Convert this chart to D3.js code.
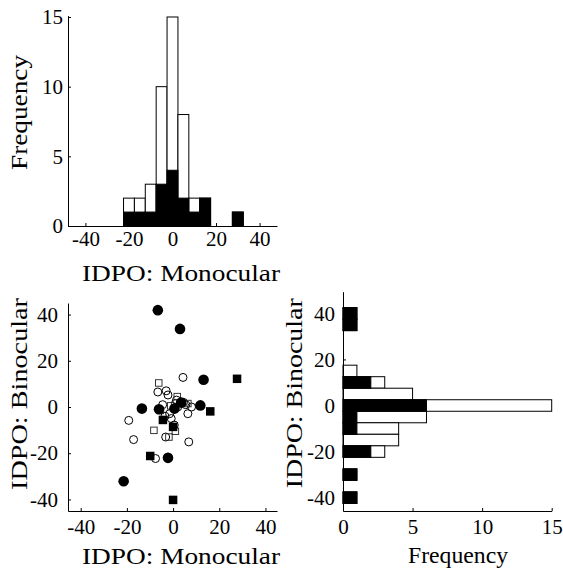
<!DOCTYPE html>
<html>
<head>
<meta charset="utf-8">
<script src="https://cdn.jsdelivr.net/npm/d3@7/dist/d3.min.js"></script>
<style>
  html, body { margin: 0; padding: 0; background: #fff; }
  svg { display: block; }
</style>
</head>
<body>
<svg id="chart" width="563" height="573"></svg>
<script>
// ---------- DATA ----------
// Top histogram: IDPO Monocular (bin centers, total counts, filled subset)
const monoBinCenters = [-20, -15, -10, -5, 0, 5, 10, 15, 20, 25, 30];
const monoTotal      = [2, 2, 3, 10, 15, 8, 2, 2, 0, 0, 1];
const monoFilled     = [1, 1, 1, 3, 4, 2, 1, 2, 0, 0, 1];

// Right histogram: IDPO Binocular
const binoBinCenters = [40, 35, 30, 25, 20, 15, 10, 5, 0, -5, -10, -15, -20, -25, -30, -35, -40];
const binoTotal      = [1, 1, 0, 0, 0, 1, 3, 5, 15, 6, 4, 4, 3, 0, 1, 0, 1];
const binoFilled     = [1, 1, 0, 0, 0, 0, 2, 0, 6, 1, 1, 0, 2, 0, 1, 0, 1];

// Scatter points
const pointMono = [-6.6, 3.0, 13.2, -13.5, -6.1, 0.6, 3.5, 11.8, -2.2, -21.4,
                   27.7, 16.1, -4.4, 0.0, -9.9, 0.0,
                   4.3, -6.2, -6.6, -3.0, -2.2, 1.8, -19.2, -17.1, -8.3, -3.2,
                   -1.8, 6.8, -7.6, 6.4, 8.0, -4.5, -5.5, -3.5, -1.5, -0.8,
                   0.5, 1.0, 1.5, 1.0, 2.0, -1.0, 4.5, 5.5, 6.4];
const pointBino = [41.9, 33.8, 11.8, -0.7, -1.0, -0.7, 1.9, 0.7, -22.0, -32.1,
                   12.2, -1.9, -5.6, -8.6, -21.2, -40.2,
                   12.8, 10.4, 6.5, 7.0, 5.2, 4.5, -5.8, -14.1, -10.1, -13.0,
                   -13.0, -15.1, -22.3, -2.9, 0.0, 1.0, -1.5, -4.0, -2.9, -5.0,
                   -7.8, -10.5, 3.0, 1.5, 0.0, 0.5, 2.0, 1.0, 1.5];
// fc = filled circle, fs = filled square, oc = open circle, os = open square
const pointType = ["fc","fc","fc","fc","fc","fc","fc","fc","fc","fc",
                   "fs","fs","fs","fs","fs","fs",
                   "oc","os","oc","oc","oc","os","oc","oc","os","oc",
                   "os","oc","oc","oc","oc","oc","os","oc","oc","oc",
                   "oc","os","oc","oc","oc","os","oc","oc","os"];

const monoTicks = [-40, -20, 0, 20, 40];
const binoTicks = [-40, -20, 0, 20, 40];
const freqTicks = [0, 5, 10, 15];
const binWidth = 5;

// ---------- DRAW ----------
const FONT = "Liberation Serif";
const svg = d3.select("#chart");
const tickFont = "21px";
const labelFont = "24px";

function styleAxis(g) {
  g.attr("font-family", FONT).attr("font-size", 21);
  g.selectAll("path.domain").attr("stroke", "#000").attr("stroke-width", 1);
  g.selectAll(".tick line").attr("stroke", "#000").attr("stroke-width", 1);
  g.selectAll(".tick text")
    .attr("font-family", FONT)
    .style("font-family", FONT)
    .style("font-size", tickFont).attr("fill", "#000");
}
function fmt(d) { return String(d).replace("\u2212", "-"); }

function label(text, x, y, len, rotate) {
  const t = svg.append("text")
    .attr("text-anchor", "middle")
    .attr("font-family", FONT)
    .style("font-family", FONT)
    .style("font-size", labelFont)
    .attr("fill", "#000")
    .attr("textLength", len)
    .attr("lengthAdjust", "spacingAndGlyphs")
    .text(text);
  if (rotate) t.attr("transform", `translate(${x},${y}) rotate(-90)`);
  else t.attr("x", x).attr("y", y);
}

// ===== Top histogram =====
{
  const x = d3.scaleLinear().domain([-48, 48]).range([68, 277]);
  const y = d3.scaleLinear().domain([0, 15.1]).range([226, 15.6]);
  const g = svg.append("g");
  const bins = monoBinCenters.map((c, i) => ({c, t: monoTotal[i], f: monoFilled[i]}));
  g.selectAll("rect.tot").data(bins.filter(d => d.t > 0)).join("rect")
    .attr("x", d => x(d.c - binWidth / 2)).attr("width", d => x(d.c + binWidth / 2) - x(d.c - binWidth / 2))
    .attr("y", d => y(d.t)).attr("height", d => y(0) - y(d.t))
    .attr("fill", "#fff").attr("stroke", "#000").attr("stroke-width", 1);
  g.selectAll("rect.fil").data(bins.filter(d => d.f > 0)).join("rect")
    .attr("x", d => x(d.c - binWidth / 2)).attr("width", d => x(d.c + binWidth / 2) - x(d.c - binWidth / 2))
    .attr("y", d => y(d.f)).attr("height", d => y(0) - y(d.f))
    .attr("fill", "#000").attr("stroke", "#000").attr("stroke-width", 1);

  const ax = svg.append("g").attr("transform", "translate(0,226)")
    .call(d3.axisBottom(x).tickValues(monoTicks).tickFormat(fmt).tickSizeInner(-3).tickSizeOuter(0).tickPadding(5.5));
  styleAxis(ax);
  const ay = svg.append("g").attr("transform", "translate(68,0)")
    .call(d3.axisLeft(y).tickValues(freqTicks).tickFormat(fmt).tickSizeInner(-3).tickSizeOuter(0).tickPadding(5));
  styleAxis(ay);
  label("Frequency", 27, 112.5, 115, true);
  label("IDPO: Monocular", 181, 281, 198, false);
}

// ===== Scatter =====
{
  const x = d3.scaleLinear().domain([-45.5, 45]).range([68, 277]);
  const y = d3.scaleLinear().domain([-45, 45]).range([511, 303]);
  const g = svg.append("g");
  const pts = pointMono.map((m, i) => ({m, b: pointBino[i], t: pointType[i]}));
  const order = {oc: 0, os: 1, fc: 2, fs: 3};
  pts.sort((a, b) => order[a.t] - order[b.t]);
  pts.forEach(p => {
    const cx = x(p.m), cy = y(p.b);
    if (p.t === "fc") {
      g.append("circle").attr("cx", cx).attr("cy", cy).attr("r", 5.3).attr("fill", "#000");
    } else if (p.t === "oc") {
      g.append("circle").attr("cx", cx).attr("cy", cy).attr("r", 4).attr("fill", "none")
        .attr("stroke", "#000").attr("stroke-width", 1);
    } else if (p.t === "fs") {
      const s = 8.5;
      g.append("rect").attr("x", cx - s / 2).attr("y", cy - s / 2).attr("width", s).attr("height", s).attr("fill", "#000");
    } else {
      const s = 6.5;
      g.append("rect").attr("x", cx - s / 2).attr("y", cy - s / 2).attr("width", s).attr("height", s)
        .attr("fill", "none").attr("stroke", "#222").attr("stroke-width", 0.9);
    }
  });
  const ax = svg.append("g").attr("transform", "translate(0,511)")
    .call(d3.axisBottom(x).tickValues(monoTicks).tickFormat(fmt).tickSizeInner(-3).tickSizeOuter(0).tickPadding(8));
  styleAxis(ax);
  const ay = svg.append("g").attr("transform", "translate(68,0)")
    .call(d3.axisLeft(y).tickValues(binoTicks).tickFormat(fmt).tickSizeInner(-3).tickSizeOuter(0).tickPadding(10));
  styleAxis(ay);
  label("IDPO: Binocular", 26.7, 394, 192, true);
  label("IDPO: Monocular", 181, 563.5, 198, false);
}

// ===== Right histogram =====
{
  const x = d3.scaleLinear().domain([0, 15]).range([343, 551.7]);
  const y = d3.scaleLinear().domain([-45.8, 49.4]).range([511, 291.7]);
  const g = svg.append("g");
  const bins = binoBinCenters.map((c, i) => ({c, t: binoTotal[i], f: binoFilled[i]}));
  g.selectAll("rect.tot").data(bins.filter(d => d.t > 0)).join("rect")
    .attr("x", x(0)).attr("width", d => x(d.t) - x(0))
    .attr("y", d => y(d.c + binWidth / 2)).attr("height", d => y(d.c - binWidth / 2) - y(d.c + binWidth / 2))
    .attr("fill", "#fff").attr("stroke", "#000").attr("stroke-width", 1);
  g.selectAll("rect.fil").data(bins.filter(d => d.f > 0)).join("rect")
    .attr("x", x(0)).attr("width", d => x(d.f) - x(0))
    .attr("y", d => y(d.c + binWidth / 2)).attr("height", d => y(d.c - binWidth / 2) - y(d.c + binWidth / 2))
    .attr("fill", "#000").attr("stroke", "#000").attr("stroke-width", 1);

  const ax = svg.append("g").attr("transform", "translate(0,511)")
    .call(d3.axisBottom(x).tickValues(freqTicks).tickFormat(fmt).tickSizeInner(-3).tickSizeOuter(0).tickPadding(8));
  styleAxis(ax);
  const ay = svg.append("g").attr("transform", "translate(343,0)")
    .call(d3.axisLeft(y).tickValues(binoTicks).tickFormat(fmt).tickSizeInner(-3).tickSizeOuter(0).tickPadding(8));
  styleAxis(ay);
  label("IDPO: Binocular", 301.5, 393.3, 190, true);
  label("Frequency", 458, 563, 100, false);
}
</script>
</body>
</html>
